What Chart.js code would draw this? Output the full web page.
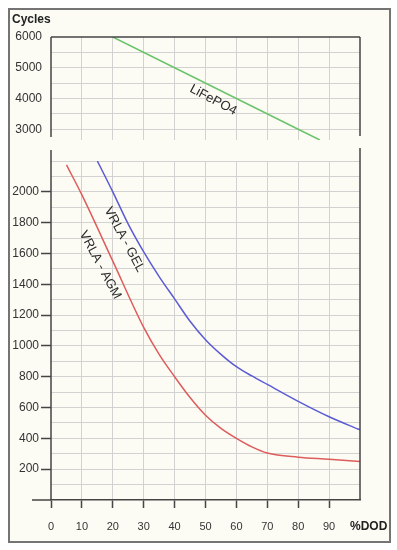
<!DOCTYPE html>
<html>
<head>
<meta charset="utf-8">
<script src="https://cdn.jsdelivr.net/npm/chart.js@4"></script>
<style>
    body { margin: 0; background: #ffffff; font-family: "Liberation Sans", Arial, sans-serif; }
    #frame { position: absolute; left: 8px; top: 8px; width: 379px; height: 531px; border: 2px solid #747474; background: #fcfcf5; }
    canvas { position: absolute; left: 0; }
    #topChart { top: 0; }
    #bottomChart { top: 145px; }
    .title { position: absolute; font-weight: bold; font-size: 12px; color: #222; }
</style>
</head>
<body>
<div id="frame"></div>
<canvas id="topChart" width="397" height="145"></canvas>
<canvas id="bottomChart" width="397" height="405"></canvas>
<div class="title" style="left:12px; top:12px;">Cycles</div>
<div class="title" style="left:350px; top:519px;">%DOD</div>

<script>
// cycle life vs depth of discharge
const lifeDod = [20, 40, 60, 80, 87];
const lifeCycles = [6000, 5000, 4000, 3000, 2650];

const gelDod = [15, 20, 25, 30, 35, 40, 45, 50, 55, 60, 65, 70, 80, 90, 100];
const gelCycles = [2200, 2000, 1790, 1610, 1450, 1305, 1160, 1040, 945, 865, 805, 750, 640, 540, 455];

const agmDod = [5, 10, 20, 30, 35, 40, 45, 50, 55, 60, 65, 70, 80, 90, 100];
const agmCycles = [2175, 1980, 1550, 1120, 945, 800, 665, 550, 465, 400, 345, 305, 278, 265, 250];

const topTicks = [3000, 3500, 4000, 4500, 5000, 5500, 6000];
const dodTicks = [0, 10, 20, 30, 40, 50, 60, 70, 80, 90, 100];

const gridColor = '#d2d2d2';
const axisColor = '#454545';
const tickFont = { family: '"Liberation Sans", Arial, sans-serif', size: 12 };

function toPoints(xs, ys) {
    return xs.map((x, i) => ({ x: x, y: ys[i] }));
}

function innerGrid(ctx) {
    const v = ctx.tick.value;
    return (v === 0 || v === 100) ? 'transparent' : gridColor;
}

function drawLabel(chart, text, xv, yv, angle) {
    const c = chart.ctx;
    const px = chart.scales.x.getPixelForValue(xv);
    const py = chart.scales.y.getPixelForValue(yv);
    c.save();
    c.translate(px, py);
    c.rotate(angle * Math.PI / 180);
    c.font = '13px "Liberation Sans", Arial, sans-serif';
    c.fillStyle = '#2a2a2a';
    c.textAlign = 'center';
    c.textBaseline = 'middle';
    c.fillText(text, 0, 0);
    c.restore();
}

function line(c, x1, y1, x2, y2) {
    c.beginPath();
    c.moveTo(x1, y1);
    c.lineTo(x2, y2);
    c.stroke();
}

const topExtras = {
    id: 'topExtras',
    afterDraw(chart) {
        const a = chart.chartArea;
        const c = chart.ctx;
        c.save();
        c.strokeStyle = axisColor;
        c.lineWidth = 1.5;
        line(c, a.left, a.top, a.right, a.top);
        line(c, a.left, a.top, a.left, a.bottom - 3);
        line(c, a.right, a.top, a.right, a.bottom - 4);
        c.restore();
        drawLabel(chart, 'LiFePO4', 52.5, 3950, 28);
    }
};

const bottomExtras = {
    id: 'bottomExtras',
    afterDraw(chart) {
        const a = chart.chartArea;
        const c = chart.ctx;
        c.save();
        c.strokeStyle = axisColor;
        c.lineWidth = 1.5;
        line(c, a.left, a.top - 11, a.left, a.bottom);
        line(c, a.right, a.top - 13, a.right, a.bottom);
        line(c, a.left - 19, a.bottom, a.left, a.bottom);
        c.restore();
        drawLabel(chart, 'VRLA - GEL', 23.7, 1690, 62);
        drawLabel(chart, 'VRLA - AGM', 15.9, 1525, 62);
    }
};

new Chart(document.getElementById('topChart'), {
    type: 'line',
    data: {
        datasets: [{
            data: toPoints(lifeDod, lifeCycles),
            borderColor: '#6cc36c',
            borderWidth: 1.5,
            pointRadius: 0
        }]
    },
    options: {
        responsive: false,
        animation: false,
        layout: { padding: { top: 37, bottom: 5, left: 0, right: 37 } },
        plugins: { legend: { display: false }, tooltip: { enabled: false } },
        scales: {
            x: {
                type: 'linear', min: 0, max: 100,
                afterBuildTicks: s => { s.ticks = dodTicks.map(v => ({ value: v })); },
                afterFit: s => { s.height = 0; },
                ticks: { display: false },
                grid: { color: innerGrid, drawTicks: false },
                border: { display: false }
            },
            y: {
                min: 2650, max: 6000,
                afterBuildTicks: s => { s.ticks = topTicks.map(v => ({ value: v })); },
                afterFit: s => {
                    s.width = 51;
                    s.paddingTop = 0;
                    s.paddingBottom = 0;
                },
                ticks: {
                    autoSkip: false,
                    padding: 9,
                    color: '#333',
                    font: tickFont,
                    callback: v => (v % 1000 === 0 ? v : '')
                },
                grid: {
                    drawTicks: false,
                    color: ctx => (ctx.tick.value === 6000 ? 'transparent' : gridColor)
                },
                border: { display: false }
            }
        }
    },
    plugins: [topExtras]
});

new Chart(document.getElementById('bottomChart'), {
    type: 'line',
    data: {
        datasets: [{
            data: toPoints(gelDod, gelCycles),
            borderColor: '#5b5bd4',
            borderWidth: 1.5,
            pointRadius: 0,
            cubicInterpolationMode: 'monotone'
        }, {
            data: toPoints(agmDod, agmCycles),
            borderColor: '#de5c5c',
            borderWidth: 1.5,
            pointRadius: 0,
            cubicInterpolationMode: 'monotone'
        }]
    },
    options: {
        responsive: false,
        animation: false,
        layout: { padding: { top: 16, bottom: 10, left: 0, right: 37 } },
        plugins: { legend: { display: false }, tooltip: { enabled: false } },
        scales: {
            x: {
                type: 'linear', min: 0, max: 100,
                afterBuildTicks: s => { s.ticks = dodTicks.map(v => ({ value: v })); },
                afterFit: s => { s.height = 40; },
                ticks: {
                    autoSkip: false,
                    maxRotation: 0,
                    padding: 12,
                    color: '#333',
                    font: { family: tickFont.family, size: 11 },
                    callback: v => (v === 100 ? '' : v)
                },
                grid: {
                    color: innerGrid,
                    tickLength: 8,
                    tickWidth: 1.5,
                    tickColor: ctx => (ctx.tick.value === 100 ? 'transparent' : axisColor)
                },
                border: { display: true, color: axisColor, width: 1.5 }
            },
            y: {
                min: 0, max: 2200,
                afterFit: s => { s.width = 51; },
                ticks: {
                    stepSize: 100,
                    autoSkip: false,
                    padding: 2,
                    color: '#333',
                    font: tickFont,
                    callback: v => (v > 0 && v <= 2000 && v % 200 === 0 ? v : '')
                },
                grid: {
                    color: ctx => (ctx.tick.value === 0 ? 'transparent' : gridColor),
                    tickLength: 10,
                    tickWidth: 1.5,
                    tickColor: ctx => {
                        const v = ctx.tick.value;
                        return (v > 0 && v <= 2000 && v % 200 === 0) ? axisColor : 'transparent';
                    }
                },
                border: { display: false }
            }
        }
    },
    plugins: [bottomExtras]
});
</script>
</body>
</html>
